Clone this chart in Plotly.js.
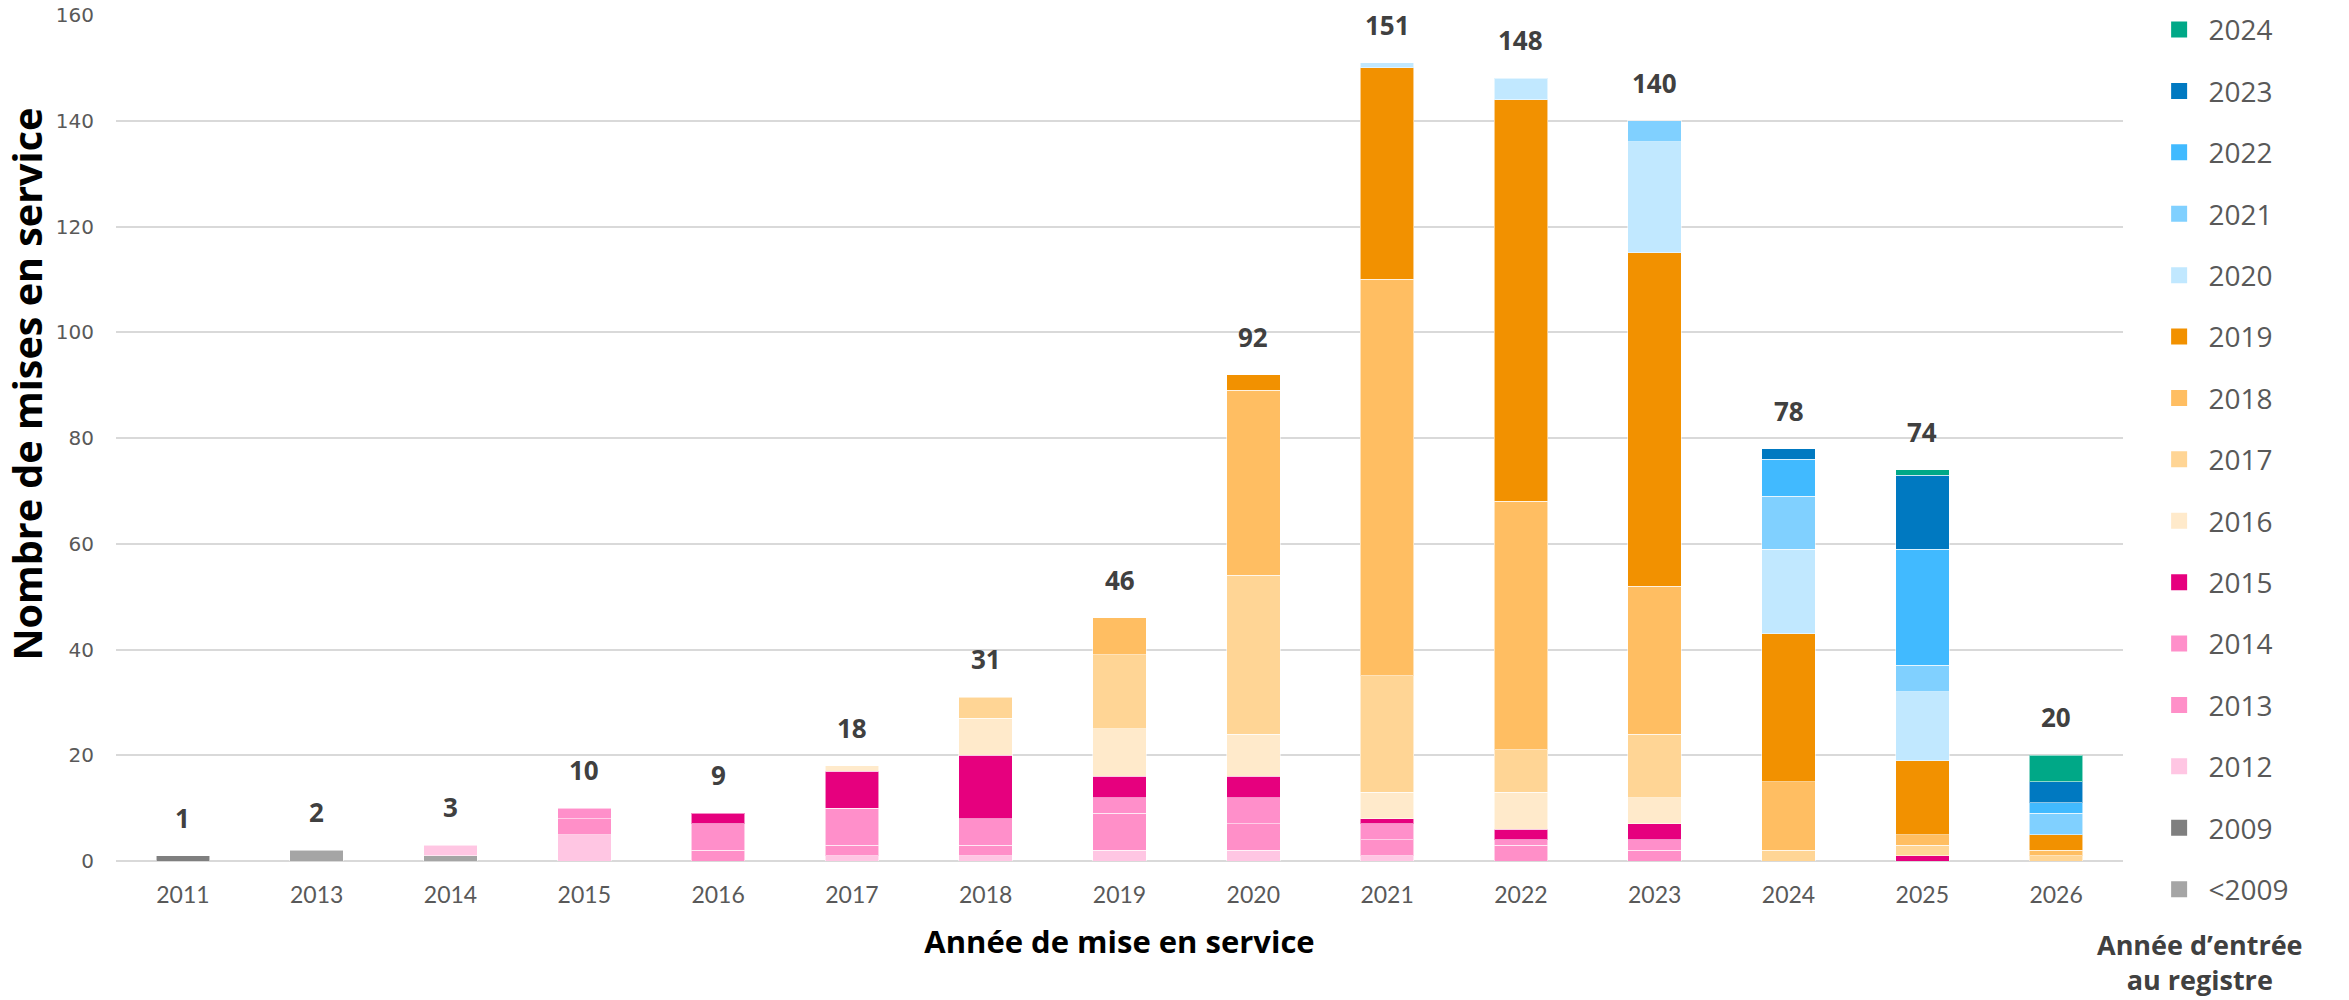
<!DOCTYPE html>
<html>
<head>
<meta charset="utf-8">
<script src="https://cdn.plot.ly/plotly-3.0.1.min.js"></script>
<style>
  html, body { margin: 0; padding: 0; background: #fff; }
  #chart { width: 2349px; height: 1000px; }
</style>
</head>
<body>
<div id="chart"></div>
<script>
// année de mise en service
var years = ['2011','2013','2014','2015','2016','2017','2018','2019','2020','2021','2022','2023','2024','2025','2026'];

// année d'entrée au registre (bas de pile -> haut)
var reg_lt2009 = [0,2,1,0,0,0,0,0,0,0,0,0,0,0,0];
var reg_2009   = [1,0,0,0,0,0,0,0,0,0,0,0,0,0,0];
var reg_2012   = [0,0,2,5,0,1,1,2,2,1,0,0,0,0,0];
var reg_2013   = [0,0,0,3,2,2,2,7,5,3,3,2,0,0,0];
var reg_2014   = [0,0,0,2,5,7,5,3,5,3,1,2,0,0,0];
var reg_2015   = [0,0,0,0,2,7,12,4,4,1,2,3,0,1,0];
var reg_2016   = [0,0,0,0,0,1,7,9,8,5,7,5,0,0,0];
var reg_2017   = [0,0,0,0,0,0,4,14,30,22,8,12,2,2,1];
var reg_2018   = [0,0,0,0,0,0,0,7,35,75,47,28,13,2,1];
var reg_2019   = [0,0,0,0,0,0,0,0,3,40,76,63,28,14,3];
var reg_2020   = [0,0,0,0,0,0,0,0,0,1,4,21,16,13,0];
var reg_2021   = [0,0,0,0,0,0,0,0,0,0,0,4,10,5,4];
var reg_2022   = [0,0,0,0,0,0,0,0,0,0,0,0,7,22,2];
var reg_2023   = [0,0,0,0,0,0,0,0,0,0,0,0,2,14,4];
var reg_2024   = [0,0,0,0,0,0,0,0,0,0,0,0,0,1,5];

var series = [
  {name: '<2009', y: reg_lt2009, color: '#A5A5A5'},
  {name: '2009',  y: reg_2009,   color: '#7F7F7F'},
  {name: '2012',  y: reg_2012,   color: '#FFC6E3'},
  {name: '2013',  y: reg_2013,   color: '#FF8FC8'},
  {name: '2014',  y: reg_2014,   color: '#FF8FCA'},
  {name: '2015',  y: reg_2015,   color: '#E6007E'},
  {name: '2016',  y: reg_2016,   color: '#FFEACB'},
  {name: '2017',  y: reg_2017,   color: '#FFD595'},
  {name: '2018',  y: reg_2018,   color: '#FFBE62'},
  {name: '2019',  y: reg_2019,   color: '#F29100'},
  {name: '2020',  y: reg_2020,   color: '#C1E8FF'},
  {name: '2021',  y: reg_2021,   color: '#80D0FF'},
  {name: '2022',  y: reg_2022,   color: '#41BAFF'},
  {name: '2023',  y: reg_2023,   color: '#0079C1'},
  {name: '2024',  y: reg_2024,   color: '#00A887'}
];

var bars = series.map(function (s) {
  return {
    type: 'bar',
    name: s.name,
    x: years,
    y: s.y.map(function (v) { return v === 0 ? null : v; }),
    legendgroup: s.name,
    showlegend: false,
    marker: {color: s.color, line: {color: 'rgba(255,255,255,0.55)', width: 1}},
    hoverinfo: 'x+y+name'
  };
});

// entrées de légende (carrés plus grands que ceux des barres), 2024 en haut
var legendItems = series.slice().reverse().map(function (s) {
  return {
    type: 'scatter', mode: 'markers',
    name: '\u2004' + s.name, legendgroup: s.name,
    x: [null], y: [null],
    marker: {symbol: 'square', size: 16, color: s.color},
    hoverinfo: 'skip'
  };
});

var data = bars.concat(legendItems);

// totaux au-dessus des barres
var totals = years.map(function (yr, i) {
  return series.reduce(function (acc, s) { return acc + s.y[i]; }, 0);
});

// x = index de catégorie (les libellés numériques seraient lus comme des nombres)
var annotations = years.map(function (yr, i) {
  return {
    x: i, y: totals[i], xref: 'x', yref: 'y',
    text: '<b>' + totals[i] + '</b>',
    showarrow: false, yanchor: 'bottom', yshift: 18,
    font: {family: 'Open Sans', size: 26, color: '#404040'}
  };
});

annotations.push({
  xref: 'paper', yref: 'paper', x: -0.0445, y: 0.564,
  text: '<b>Nombre de mises en service</b>', textangle: -90,
  showarrow: false, xanchor: 'center', yanchor: 'middle',
  font: {family: 'Open Sans', size: 39.5, color: '#000000'}
});

annotations.push({
  xref: 'paper', yref: 'paper', x: 1.0385, y: -0.074,
  text: '<b>Année d’entrée<br>au registre</b>',
  showarrow: false, xanchor: 'center', yanchor: 'top', align: 'center',
  font: {family: 'Open Sans', size: 27, color: '#404040'}
});

var layout = {
  width: 2349, height: 1000,
  margin: {l: 116, r: 226, t: 15, b: 139, autoexpand: false},
  barmode: 'stack',
  bargap: 0.6,
  paper_bgcolor: '#ffffff',
  plot_bgcolor: '#ffffff',
  showlegend: true,
  legend: {
    x: 1.018, xanchor: 'left', y: 1.012, yanchor: 'top',
    traceorder: 'grouped',
    tracegroupgap: 22,
    maxheight: 1000,
    font: {family: 'Open Sans', size: 28, color: '#595959'}
  },
  xaxis: {
    type: 'category',
    range: [-0.5, years.length - 0.5],
    tickfont: {family: 'Lato', size: 23, color: '#595959'},
    ticklabelstandoff: 18,
    showgrid: false,
    showline: false,
    title: {
      text: '<b>Année de mise en service</b>',
      font: {family: 'Open Sans', size: 31, color: '#000000'},
      standoff: 24
    }
  },
  yaxis: {
    range: [0, 160],
    dtick: 20,
    tickfont: {family: 'DejaVu Sans', size: 20, color: '#595959'},
    ticklabelstandoff: 21,
    gridcolor: '#D9D9D9',
    gridwidth: 2,
    zeroline: true,
    zerolinecolor: '#D9D9D9',
    zerolinewidth: 2,
    showline: false
  },
  annotations: annotations
};

Plotly.newPlot('chart', data, layout, {displayModeBar: false, staticPlot: true});
</script>
</body>
</html>
